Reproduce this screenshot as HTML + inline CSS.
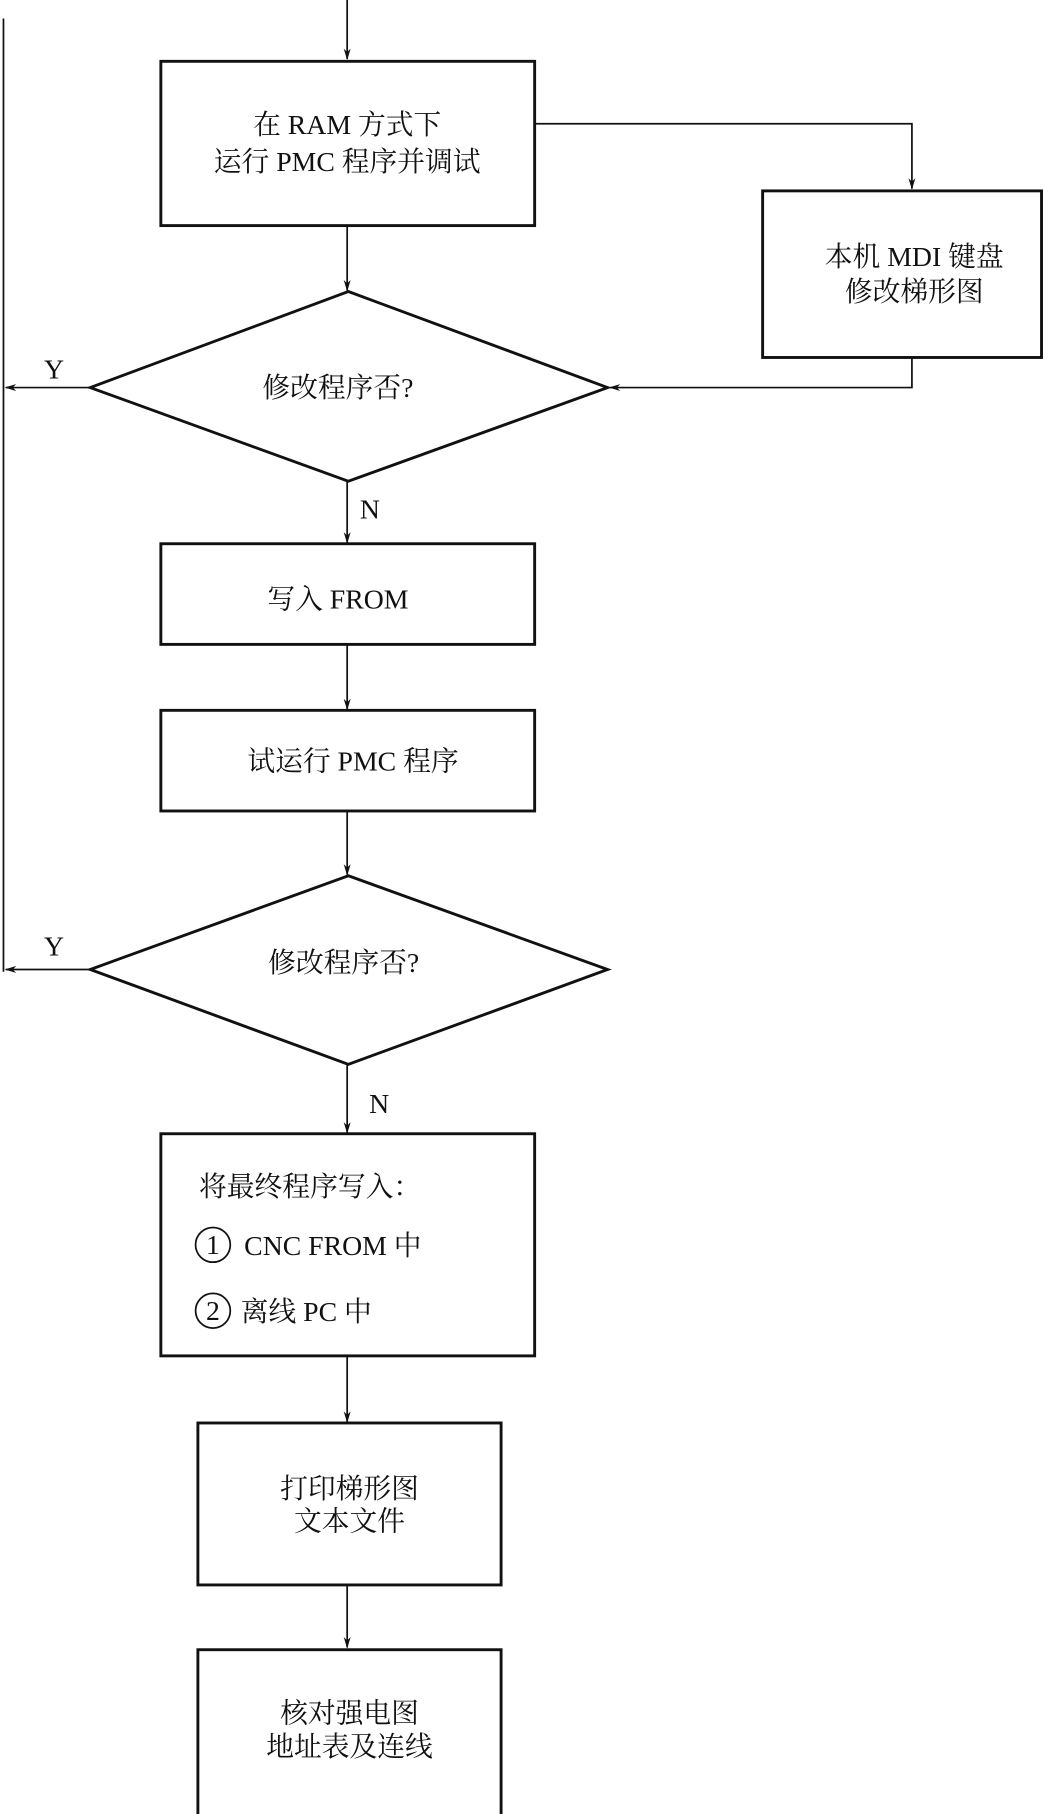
<!DOCTYPE html>
<html><head><meta charset="utf-8"><style>
html,body{margin:0;padding:0;background:#fff;}
svg{display:block;}
text{font-family:"Liberation Serif","Noto Serif CJK SC",serif;font-size:24px;fill:#111;}
</style></head><body>
<svg width="1045" height="1814" viewBox="0 0 903 1568" preserveAspectRatio="none" xmlns="http://www.w3.org/2000/svg">
<defs><marker id="a" markerWidth="10" markerHeight="14" refX="9" refY="5" orient="auto" markerUnits="userSpaceOnUse"><path d="M0,2 L10,5 L0,8 L3,5 Z" fill="#111"/></marker></defs>
<g stroke="#111" fill="none" stroke-width="1.5">
<line x1="3" y1="16" x2="3" y2="840"/>
<line x1="300" y1="0" x2="300" y2="51" marker-end="url(#a)"/>
<polyline points="462,107 788,107 788,163" marker-end="url(#a)"/>
<line x1="300" y1="195" x2="300" y2="251" marker-end="url(#a)"/>
<polyline points="788,309 788,335 527,335" marker-end="url(#a)"/>
<line x1="78" y1="335" x2="5" y2="335" marker-end="url(#a)"/>
<line x1="300" y1="416" x2="300" y2="469" marker-end="url(#a)"/>
<line x1="300" y1="557" x2="300" y2="613" marker-end="url(#a)"/>
<line x1="300" y1="701" x2="300" y2="756" marker-end="url(#a)"/>
<line x1="78" y1="838" x2="5" y2="838" marker-end="url(#a)"/>
<line x1="300" y1="920" x2="300" y2="979" marker-end="url(#a)"/>
<line x1="300" y1="1172" x2="300" y2="1229" marker-end="url(#a)"/>
<line x1="300" y1="1370" x2="300" y2="1424" marker-end="url(#a)"/>
</g>
<g stroke="#111" fill="none" stroke-width="2.5">
<rect x="139" y="53" width="323" height="142"/>
<rect x="659" y="165" width="241" height="144"/>
<polygon points="301,252 525,335 301,416 78,335"/>
<rect x="139" y="470" width="323" height="87"/>
<rect x="139" y="614" width="323" height="87"/>
<polygon points="301,757 525,838 301,920 78,838"/>
<rect x="139" y="980" width="323" height="192"/>
<rect x="171" y="1230" width="262" height="140"/>
<rect x="171" y="1426" width="262" height="145"/>
<circle cx="184" cy="1076" r="15" stroke-width="1.5"/>
<circle cx="184" cy="1133" r="15" stroke-width="1.5"/>
</g>
<g text-anchor="middle">
<text x="300" y="116">在 RAM 方式下</text>
<text x="300" y="148">运行 PMC 程序并调试</text>
<text x="790" y="230">本机 MDI 键盘</text>
<text x="790" y="260">修改梯形图</text>
<text x="292" y="343">修改程序否?</text>
<text x="292" y="526">写入 FROM</text>
<text x="305" y="666">试运行 PMC 程序</text>
<text x="297" y="840">修改程序否?</text>
<text x="302" y="1295">打印梯形图</text>
<text x="302" y="1323">文本文件</text>
<text x="302" y="1489">核对强电图</text>
<text x="302" y="1518">地址表及连线</text>
<text x="184" y="1084" font-size="20">1</text>
<text x="184" y="1141" font-size="20">2</text>
</g>
<text x="38" y="327">Y</text>
<text x="38" y="826">Y</text>
<text x="311" y="448">N</text>
<text x="319" y="962">N</text>
<text x="172" y="1034">将最终程序写入：</text>
<text x="211" y="1085">CNC  FROM 中</text>
<text x="208" y="1142">离线 PC 中</text>
</svg>
</body></html>
